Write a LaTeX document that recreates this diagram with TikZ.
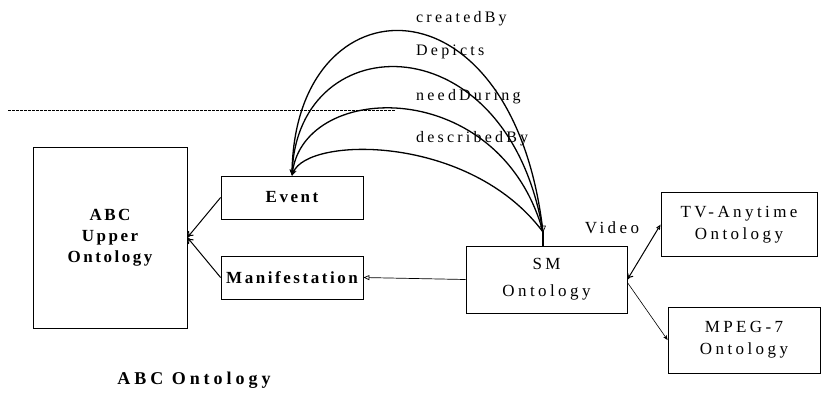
\documentclass[tikz,border=0pt]{standalone}
\usepackage{fontspec}
\setmainfont{Liberation Serif}
\usetikzlibrary{arrows.meta,calc}
\newfontfamily\spaced[LetterSpace=20]{Liberation Serif}
\newfontfamily\spacedbf[LetterSpace=15]{Liberation Serif Bold}
\begin{document}
\begin{tikzpicture}[x=1pt,y=-1pt,
  box/.style={draw,line width=0.8pt,inner sep=0pt,align=center},
  reg/.style={font=\fontsize{17}{24}\selectfont\spaced},
  bld/.style={font=\fontsize{17}{21}\selectfont\spacedbf},
  lbl/.style={font=\fontsize{16}{18}\selectfont\spaced,anchor=base west,inner sep=0pt},
  rel/.style={line width=1.3pt,-{Stealth[length=6pt,width=5pt]}},
  link/.style={line width=1pt}]
\useasboundingbox (0,0) rectangle (822,392);

% boxes
\node[box,bld,minimum width=154pt,minimum height=181pt] (Upper) at (110,237.5) {ABC\\Upper\\Ontology};
\node[box,bld,minimum width=142pt,minimum height=43pt] (Event) at (292,197.5) {Event};
\node[box,bld,minimum width=142pt,minimum height=43pt] (Man) at (292,277.5) {Manifestation};
\node[box,reg,minimum width=161pt,minimum height=67pt,font=\fontsize{17}{27}\selectfont\spaced] (SM) at (546.5,279.5) {SM\\Ontology};
\node[box,reg,minimum width=156pt,minimum height=64pt,font=\fontsize{17}{22}\selectfont\spaced] (TV) at (739,224.5) {TV-Anytime\\Ontology};
\node[box,reg,minimum width=152pt,minimum height=66pt,font=\fontsize{17}{22}\selectfont\spaced] (MP) at (744,340) {MPEG-7\\Ontology};

% caption of the left group
\node[font=\fontsize{18}{20}\selectfont\addfontfeature{LetterSpace=22}\bfseries,inner sep=0pt] (cap) at (194,380) {ABC Ontology};

% dotted separator
\coordinate (d1) at (8,110);
\coordinate (d2) at (396,110);
\draw[line width=0.8pt,dash pattern=on 2.5pt off 1.5pt] (d1) -- (d2);

% stem on top of SM where the relations meet
\coordinate (hub) at (543,232);
\draw[line width=1.6pt] (hub) -- (hub |- SM.north);
\draw[line width=0.6pt,fill=white] (hub) ++(-2.5,-6) -- ++(5,0) -- (hub) -- cycle;

% relations between SM and Event
\draw[rel] (hub) .. controls (513,-30) and (295,-22) .. (Event.north);
\draw[rel] (hub) .. controls (508,21) and (298,24) .. (Event.north);
\draw[rel] (hub) .. controls (500,76) and (305,80) .. (Event.north);
\draw[rel] (hub) .. controls (470,134) and (308,136) .. (Event.north);

\node[lbl] (l1) at (416,22) {createdBy};
\node[lbl] (l2) at (416,55) {Depicts};
\node[lbl] (l3) at (416,100) {needDuring};
\node[lbl] (l4) at (416,142) {describedBy};

% subclass links
\draw[link,-{To[length=6pt,width=7pt]}] (Event.west) -- (Upper.east);
\draw[link,-{To[length=6pt,width=7pt]}] (Man.west) -- (Upper.east);
\draw[line width=0.7pt,-{Triangle[open,length=6pt,width=5pt]}] (SM.west) -- (Man.east);

% links to external ontologies
\draw[link,{To[length=6pt,width=7pt]}-{Triangle[open,length=5pt,width=4pt]}] (SM.east) -- (TV.west);
\draw[line width=0.6pt,-{Stealth[length=5pt,width=4pt]}] ([yshift=-3pt]SM.east) -- (MP.west);
\node[reg,inner sep=0pt,anchor=base] (vid) at (612,233) {Video};
\end{tikzpicture}
\end{document}
